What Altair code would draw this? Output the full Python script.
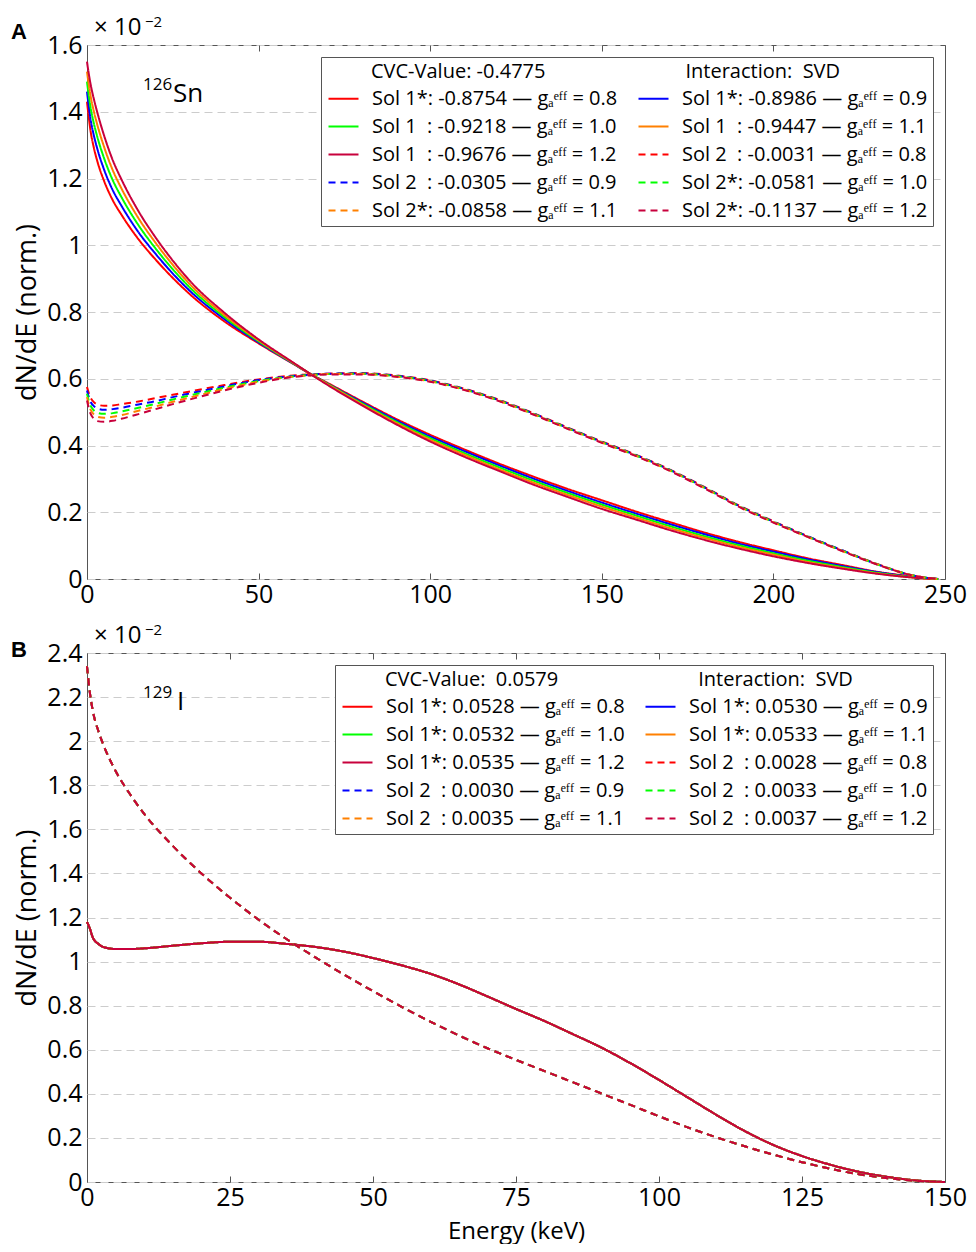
import altair as alt
import pandas as pd

# ---------------- Panel A : 126Sn ----------------
E_SN = [0, 0.5, 1, 2, 3, 5, 7.5, 10, 15, 20, 25, 30, 40, 50, 60, 65, 70, 80, 90, 100,
        110, 120, 130, 140, 150, 160, 170, 180, 190, 200, 210, 220, 230, 240, 245, 248]

SN_SOL1_G08 = [1.43, 1.385, 1.345, 1.292, 1.252, 1.192, 1.135, 1.092, 1.018, 0.957, 0.902, 0.853, 0.772, 0.706, 0.645, 0.615, 0.588, 0.533, 0.48, 0.432,
               0.388, 0.346, 0.307, 0.27, 0.236, 0.202, 0.17, 0.139, 0.111, 0.086, 0.062, 0.042, 0.022, 0.008, 0.002, 0.0]
SN_SOL1_G09 = [1.46, 1.418, 1.38, 1.329, 1.289, 1.226, 1.165, 1.119, 1.039, 0.974, 0.915, 0.863, 0.779, 0.709, 0.646, 0.615, 0.586, 0.53, 0.476, 0.427,
               0.383, 0.341, 0.301, 0.264, 0.229, 0.196, 0.164, 0.134, 0.106, 0.082, 0.059, 0.039, 0.021, 0.007, 0.002, 0.0]
SN_SOL1_G10 = [1.49, 1.45, 1.415, 1.365, 1.325, 1.26, 1.195, 1.145, 1.06, 0.99, 0.928, 0.873, 0.785, 0.712, 0.647, 0.615, 0.585, 0.527, 0.472, 0.422,
               0.377, 0.335, 0.295, 0.258, 0.223, 0.19, 0.158, 0.128, 0.101, 0.077, 0.055, 0.036, 0.019, 0.006, 0.0015, 0.0]
SN_SOL1_G11 = [1.52, 1.483, 1.45, 1.401, 1.361, 1.294, 1.225, 1.171, 1.081, 1.007, 0.941, 0.883, 0.791, 0.715, 0.648, 0.615, 0.584, 0.524, 0.468, 0.417,
               0.372, 0.329, 0.289, 0.252, 0.217, 0.184, 0.152, 0.123, 0.096, 0.073, 0.051, 0.033, 0.017, 0.005, 0.001, 0.0]
SN_SOL1_G12 = [1.55, 1.515, 1.485, 1.438, 1.398, 1.328, 1.255, 1.198, 1.102, 1.023, 0.954, 0.893, 0.798, 0.718, 0.649, 0.615, 0.582, 0.521, 0.464, 0.412,
               0.366, 0.324, 0.283, 0.246, 0.21, 0.178, 0.146, 0.117, 0.091, 0.068, 0.048, 0.031, 0.016, 0.005, 0.001, 0.0]

SN_SOL2_G08 = [0.575, 0.558, 0.544, 0.53, 0.523, 0.519, 0.52, 0.524, 0.532, 0.542, 0.552, 0.562, 0.581, 0.598, 0.61, 0.613, 0.615, 0.617, 0.61, 0.595,
               0.57, 0.537, 0.497, 0.454, 0.412, 0.372, 0.327, 0.275, 0.22, 0.173, 0.128, 0.086, 0.046, 0.012, 0.003, 0.0]
SN_SOL2_G09 = [0.565, 0.546, 0.532, 0.518, 0.511, 0.507, 0.509, 0.513, 0.523, 0.533, 0.545, 0.556, 0.577, 0.596, 0.608, 0.612, 0.615, 0.616, 0.609, 0.594,
               0.569, 0.536, 0.496, 0.453, 0.411, 0.371, 0.326, 0.274, 0.219, 0.172, 0.128, 0.086, 0.045, 0.012, 0.003, 0.0]
SN_SOL2_G10 = [0.555, 0.535, 0.52, 0.505, 0.498, 0.495, 0.497, 0.502, 0.513, 0.525, 0.538, 0.55, 0.573, 0.593, 0.607, 0.611, 0.614, 0.615, 0.608, 0.593,
               0.568, 0.535, 0.495, 0.452, 0.41, 0.37, 0.325, 0.273, 0.218, 0.171, 0.127, 0.085, 0.045, 0.012, 0.003, 0.0]
SN_SOL2_G11 = [0.545, 0.524, 0.508, 0.493, 0.486, 0.483, 0.486, 0.491, 0.504, 0.517, 0.531, 0.544, 0.569, 0.591, 0.606, 0.61, 0.614, 0.614, 0.607, 0.592,
               0.567, 0.534, 0.494, 0.451, 0.409, 0.369, 0.324, 0.272, 0.217, 0.17, 0.126, 0.084, 0.045, 0.012, 0.003, 0.0]
SN_SOL2_G12 = [0.535, 0.513, 0.496, 0.48, 0.473, 0.471, 0.474, 0.48, 0.494, 0.509, 0.524, 0.538, 0.565, 0.588, 0.605, 0.61, 0.613, 0.613, 0.606, 0.591,
               0.566, 0.533, 0.493, 0.45, 0.408, 0.368, 0.323, 0.271, 0.216, 0.169, 0.126, 0.084, 0.044, 0.012, 0.003, 0.0]

G = "g\u2090\u1d49\u1da0\u1da0"
NB = "\u00a0"
SN_LABELS = [
    f"Sol 1*: -0.8754 — {G} = 0.8",
    f"Sol 1*: -0.8986 — {G} = 0.9",
    f"Sol 1{NB}{NB}: -0.9218 — {G} = 1.0",
    f"Sol 1{NB}{NB}: -0.9447 — {G} = 1.1",
    f"Sol 1{NB}{NB}: -0.9676 — {G} = 1.2",
    f"Sol 2{NB}{NB}: -0.0031 — {G} = 0.8",
    f"Sol 2{NB}{NB}: -0.0305 — {G} = 0.9",
    f"Sol 2*: -0.0581 — {G} = 1.0",
    f"Sol 2*: -0.0858 — {G} = 1.1",
    f"Sol 2*: -0.1137 — {G} = 1.2",
]
SN_SERIES = [SN_SOL1_G08, SN_SOL1_G09, SN_SOL1_G10, SN_SOL1_G11, SN_SOL1_G12,
             SN_SOL2_G08, SN_SOL2_G09, SN_SOL2_G10, SN_SOL2_G11, SN_SOL2_G12]
SN_HEADER = ["CVC-Value: -0.4775", "Interaction:" + NB + NB + "SVD"]
SN_XTICKS = [0, 50, 100, 150, 200, 250]
SN_YTICKS = [0, 0.2, 0.4, 0.6, 0.8, 1.0, 1.2, 1.4, 1.6]

# ---------------- Panel B : 129I ----------------
E_I = [0, 0.5, 1, 2, 3, 5, 7.5, 10, 15, 20, 25, 30, 35, 40, 45, 50, 55, 60, 65, 70,
       75, 80, 85, 90, 95, 100, 105, 110, 115, 120, 125, 130, 135, 140, 145, 150]

# the five g_A curves of each solution overlap within line width in the picture
I_SOL1 = [1.18, 1.15, 1.11, 1.08, 1.065, 1.057, 1.057, 1.06, 1.072, 1.083, 1.09, 1.09, 1.08, 1.066, 1.045, 1.016, 0.983, 0.945, 0.897, 0.842,
          0.785, 0.73, 0.67, 0.609, 0.539, 0.463, 0.384, 0.305, 0.231, 0.168, 0.118, 0.078, 0.046, 0.023, 0.007, 0.0]
I_SOL2 = [2.34, 2.22, 2.14, 2.045, 1.975, 1.865, 1.76, 1.67, 1.525, 1.40, 1.29, 1.19, 1.10, 1.018, 0.94, 0.866, 0.795, 0.728, 0.665, 0.607,
          0.554, 0.503, 0.452, 0.401, 0.35, 0.298, 0.248, 0.203, 0.162, 0.124, 0.09, 0.06, 0.035, 0.017, 0.005, 0.0]

I_LABELS = [
    f"Sol 1*: 0.0528 — {G} = 0.8",
    f"Sol 1*: 0.0530 — {G} = 0.9",
    f"Sol 1*: 0.0532 — {G} = 1.0",
    f"Sol 1*: 0.0533 — {G} = 1.1",
    f"Sol 1*: 0.0535 — {G} = 1.2",
    f"Sol 2{NB}{NB}: 0.0028 — {G} = 0.8",
    f"Sol 2{NB}{NB}: 0.0030 — {G} = 0.9",
    f"Sol 2{NB}{NB}: 0.0033 — {G} = 1.0",
    f"Sol 2{NB}{NB}: 0.0035 — {G} = 1.1",
    f"Sol 2{NB}{NB}: 0.0037 — {G} = 1.2",
]
I_SERIES = [I_SOL1, I_SOL1, I_SOL1, I_SOL1, I_SOL1,
            I_SOL2, I_SOL2, I_SOL2, I_SOL2, I_SOL2]
I_HEADER = ["CVC-Value:" + NB + NB + "0.0579", "Interaction:" + NB + NB + "SVD"]
I_XTICKS = [0, 25, 50, 75, 100, 125, 150]
I_YTICKS = [0, 0.2, 0.4, 0.6, 0.8, 1.0, 1.2, 1.4, 1.6, 1.8, 2.0, 2.2, 2.4]

COLORS = ["#ff0000", "#0000ff", "#00ff00", "#ff8000", "#c8003c",
          "#ff0000", "#0000ff", "#00ff00", "#ff8000", "#c8003c"]
DASHES = [[1, 0]] * 5 + [[7, 5]] * 5
# legend fills column by column: reorder so rows read like the reference
LEG_ORDER = [0, 2, 4, 6, 8, 1, 3, 5, 7, 9]

FONT = "Open Sans"


def make_df(E, series, labels):
    rows = []
    for lab, vals in zip(labels, series):
        for e, v in zip(E, vals):
            rows.append({"E": e, "v": v, "series": lab})
    return pd.DataFrame(rows)


def ann(text, x, y, size, weight="normal", font=FONT):
    return alt.Chart(pd.DataFrame({"t": [text]})).mark_text(
        align="left", baseline="alphabetic", fontSize=size, fontWeight=weight,
        font=font, color="black"
    ).encode(text="t:N", x=alt.value(x), y=alt.value(y))


def panel(E, series, labels, header, xdom, xvals, ydom, yvals, letter, letter_y,
          mass, sym, sym_x, w, h, xtitle):
    df = make_df(E, series, labels)
    em = "\u2003"
    title = "\u200b" + em + em + "\u2005" + header[0] + em * 7 + header[1]
    dom = [labels[i] for i in LEG_ORDER]
    cols = [COLORS[i] for i in LEG_ORDER]
    dashes = [DASHES[i] for i in LEG_ORDER]
    leg = alt.Legend(
        title=title, orient="top-right", offset=12, columns=2,
        symbolType="M-1.2,0L1.2,0", symbolSize=625, symbolStrokeWidth=2,
        symbolOffset=4,
        labelFontSize=20, titleFontSize=20, titleFontWeight="normal",
        labelFont=FONT, titleFont=FONT, labelColor="black", titleColor="black",
        labelLimit=600, titleLimit=900, strokeColor="#555", fillColor="white",
        padding=5, rowPadding=4, columnPadding=16, labelOffset=15, titlePadding=3,
    )
    xscale = alt.Scale(domain=xdom, nice=False)
    xaxis = alt.Axis(values=xvals, title=xtitle if xtitle else None, grid=False,
                     ticks=True, tickSize=6, tickColor="#555", offset=-6,
                     domain=False, labelPadding=3, labelFontSize=25, labelFlush=False,
                     labelFont=FONT, labelColor="black", titleFontSize=24,
                     titleFont=FONT, titleFontWeight="normal", titleColor="black",
                     titlePadding=9)
    yaxis = alt.Axis(values=yvals, format=".1~f", title="dN/dE (norm.)",
                     grid=True, gridDash=[8, 5], gridColor="#cccccc", labelFlush=False,
                     ticks=False, domain=False, labelPadding=5, labelFontSize=25,
                     labelFont=FONT, labelColor="black", titleFontSize=27,
                     titleFont=FONT, titleFontWeight="normal", titleColor="black",
                     titlePadding=5)
    lines = alt.Chart(df).mark_line(strokeWidth=2, interpolate="monotone").encode(
        x=alt.X("E:Q", scale=xscale, axis=xaxis),
        y=alt.Y("v:Q", scale=alt.Scale(domain=ydom, nice=False), axis=yaxis),
        color=alt.Color("series:N", scale=alt.Scale(domain=dom, range=cols), legend=leg),
        strokeDash=alt.StrokeDash("series:N", scale=alt.Scale(domain=dom, range=dashes),
                                  legend=leg),
    )
    # inward tick marks on the top frame
    top_ticks = alt.Chart(pd.DataFrame({"E": xvals})).mark_point(opacity=0).encode(
        x=alt.X("E:Q", scale=xscale,
                axis=alt.Axis(orient="top", values=xvals, labels=False, ticks=True,
                              tickSize=6, tickColor="#555", offset=-6, domain=False,
                              grid=False, title=None))
    )
    layers = [
        lines,
        top_ticks,
        ann(letter, -76, letter_y, 22, "bold", "Liberation Sans"),
        ann("× 10", 7, -10, 24),
        ann("−2", 58, -18, 15),
        ann(mass, 56, 45, 17),
        ann(sym, sym_x, 57, 26),
    ]
    return alt.layer(*layers).resolve_axis(x="independent").properties(width=w, height=h)


chart_a = panel(E_SN, SN_SERIES, SN_LABELS, SN_HEADER, [0, 250], SN_XTICKS,
                [0, 1.6], SN_YTICKS, "A", -6, "126", "Sn", 86, 858, 534, None)
chart_b = panel(E_I, I_SERIES, I_LABELS, I_HEADER, [0, 150], I_XTICKS,
                [0, 2.4], I_YTICKS, "B", 4, "129", "I", 90, 858, 529, "Energy (keV)")

chart = alt.vconcat(chart_a, chart_b, spacing=14).resolve_scale(
    color="independent", strokeDash="independent"
).properties(padding={"left": 2, "top": 6, "right": 0, "bottom": 0}).configure_view(
    stroke="#555", strokeWidth=1)

chart.save("out.html", embed_options={"renderer": "svg", "actions": False})
